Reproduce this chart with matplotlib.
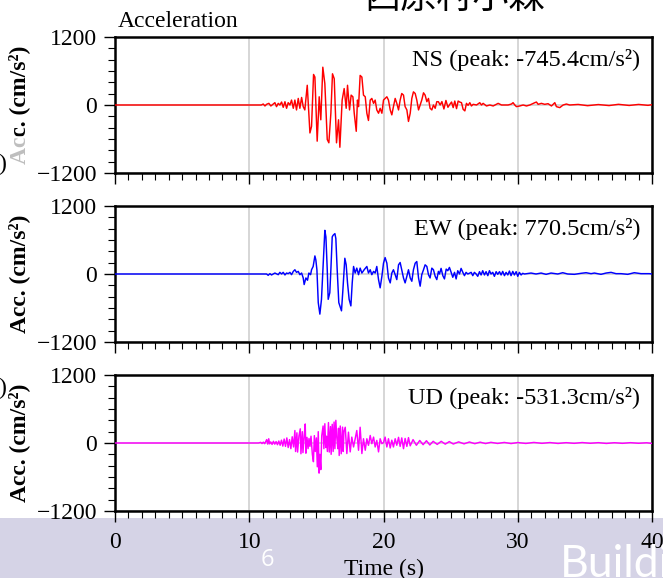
import numpy as np
import matplotlib.pyplot as plt
from matplotlib.patches import Rectangle
from matplotlib.ticker import MultipleLocator

# accelerogram vertices (time in s, acceleration in cm/s^2)
ns_t = [0, 10.90, 11.04, 11.17, 11.29, 11.46, 11.61, 11.79, 11.91, 12.03, 12.16,
        12.28, 12.41, 12.53, 12.66, 12.78, 12.90, 13.03, 13.15, 13.28, 13.40,
        13.52, 13.65, 13.77, 13.90, 14.02, 14.14, 14.32, 14.52, 14.64, 14.79,
        14.89, 15.06, 15.21, 15.33, 15.48, 15.63, 15.81, 15.93, 16.08, 16.20,
        16.33, 16.50, 16.65, 16.75, 16.92, 17.07, 17.22, 17.32, 17.47, 17.59,
        17.72, 17.82, 17.97, 18.06, 18.14, 18.26, 18.39, 18.51, 18.64, 18.76,
        18.88, 19.01, 19.13, 19.26, 19.38, 19.50, 19.63, 19.75, 19.88, 20.00,
        20.12, 20.25, 20.37, 20.50, 20.62, 20.74, 20.87, 20.99, 21.12, 21.24,
        21.36, 21.49, 21.61, 21.74, 21.86, 21.99, 22.11, 22.23, 22.36, 22.48,
        22.61, 22.73, 22.85, 22.98, 23.10, 23.23, 23.35, 23.47, 23.60, 23.72,
        23.85, 23.97, 24.09, 24.22, 24.35, 24.50, 24.65, 24.80, 24.94, 25.07,
        25.19, 25.31, 25.44, 25.56, 25.68, 25.81, 25.93, 26.06, 26.18, 26.30,
        26.43, 26.55, 26.68, 26.93, 27.17, 27.30, 27.42, 27.67, 27.92, 28.17,
        28.54, 28.79, 29.03, 29.28, 29.53, 29.65, 29.78, 29.90, 30.15, 30.40,
        30.65, 30.90, 31.27, 31.39, 31.52, 31.76, 32.01, 32.26, 32.51, 32.76,
        32.88, 33.13, 33.38, 33.62, 33.87, 34.50, 35.20, 36.00, 36.80, 37.50,
        38.30, 39.00, 39.70, 40.00]
ns_a = [0, 0, 17, -17, 12, 29, -17, 17, 41, -29, 29,
        0, 52, -41, 58, -58, 41, 0, 87, -58, 87,
        -87, 116, -58, 133, -29, -87, 348, -493, -377, 539,
        493, -638, 145, -261, 667, 377, -609, -667, -145, 551,
        464, -667, -261, -745.4, 87, 290, -58, 348, -87, 174,
        145, -145, -464, 87, -29, 522, 493, 174, 145, -145,
        -273, 87, 116, 29, 87, -87, -145, -58, -145, 87,
        116, 145, 87, -87, -174, -29, 116, 29, -87, 87,
        203, 174, -29, -87, -290, -145, 116, 232, 203, 87,
        -87, 0, 87, 215, 174, 58, 116, -58, -87, 0,
        -58, 58, 58, 0, 60, -70, 80, -40, 12, 52,
        -46, 70, -64, 70, 52, 41, -75, -104, 29, -6,
        41, -17, 12, 0, 41, 0, 29, -17, 0, -17,
        29, 0, 0, 0, 17, 41, 0, -29, -17, 0,
        -17, 0, 41, 52, 12, 29, 12, 23, -17, 41,
        -29, -46, 0, 17, 0, 10, -12, 8, -10, 12,
        -8, 10, -6, 5]

ew_t = [0, 11.29, 11.41, 11.54, 11.66, 11.91, 12.16, 12.28, 12.41, 12.53, 12.66,
        12.78, 12.90, 13.03, 13.15, 13.28, 13.40, 13.52, 13.65, 13.77, 13.90,
        14.02, 14.09, 14.22, 14.34, 14.44, 14.57, 14.64, 14.76, 14.89, 14.96,
        15.04, 15.14, 15.26, 15.38, 15.51, 15.63, 15.71, 15.81, 15.88, 16.00,
        16.08, 16.18, 16.25, 16.38, 16.45, 16.55, 16.67, 16.87, 16.97, 17.12,
        17.22, 17.32, 17.44, 17.57, 17.67, 17.77, 17.89, 18.01, 18.14, 18.26,
        18.39, 18.56, 18.76, 18.88, 19.01, 19.13, 19.26, 19.38, 19.50, 19.63,
        19.75, 19.88, 20.00, 20.12, 20.25, 20.37, 20.50, 20.62, 20.74, 20.87,
        20.99, 21.12, 21.24, 21.36, 21.49, 21.61, 21.74, 21.86, 21.99, 22.11,
        22.23, 22.36, 22.48, 22.61, 22.73, 22.85, 22.98, 23.10, 23.23, 23.35,
        23.47, 23.60, 23.72, 23.85, 23.97, 24.09, 24.17, 24.29, 24.42, 24.54,
        24.67, 24.79, 24.91, 25.04, 25.16, 25.29, 25.41, 25.53, 25.66, 25.78,
        25.91, 26.03, 26.15, 26.28, 26.53, 26.65, 26.77, 26.90, 27.02, 27.15,
        27.27, 27.39, 27.52, 27.64, 27.77, 27.89, 28.01, 28.14, 28.26, 28.39,
        28.51, 28.64, 28.76, 28.88, 29.01, 29.13, 29.26, 29.38, 29.50, 29.63,
        29.75, 29.88, 30.00, 30.12, 30.25, 30.37, 30.50, 30.99, 31.36, 31.74,
        32.11, 32.48, 32.98, 33.35, 33.72, 34.22, 34.71, 35.09, 35.46, 35.71,
        36.20, 36.58, 36.95, 37.32, 37.69, 38.19, 38.68, 39.18, 39.80, 40.00]
ew_a = [0, 0, -23, 6, -17, 17, -12, 29, 0, 29, -17,
        17, 6, 29, -12, 46, 75, 29, 46, -12, 17,
        -70, -186, -70, -110, 17, -12, 75, 133, 319, 249,
        75, -505, -708, -447, 191, 770.5, 655, 75, -447, -331,
        75, 655, 684, 713, 626, 75, -505, -650, -300, 278,
        162, -157, -447, -563, -157, 133, 17, 104, -12, 104,
        17, 75, 133, 17, 75, -12, 46, 17, 133, -99,
        -244, -41, 191, 290, 191, -70, -157, 17, 75, -12,
        -99, 162, 203, 75, -70, -157, -41, 75, -70, -128,
        75, 191, 220, -70, -215, -12, 75, 162, 133, -12,
        -70, 104, 75, -41, -99, 46, 0, 99, -29, -87,
        87, 58, 116, 29, -58, 29, -87, 58, 0, 99,
        29, -29, 29, 0, 29, -29, 29, 0, -41, 41,
        -17, 58, -17, 41, -29, 58, 0, 29, -41, 41,
        -6, 41, -17, 46, -29, 29, -17, 52, -29, 46,
        -17, 41, -41, 29, -17, 12, 0, 17, 0, 17,
        -6, 17, 0, 23, 0, -6, 12, 23, 6, 17,
        -6, 17, 29, 6, 6, -6, 23, 6, 6, 0]

ud_t = [0, 10.70, 10.85, 10.95, 11.05, 11.15, 11.30, 11.38, 11.45, 11.52, 11.60,
        11.70, 11.80, 11.90, 12.00, 12.10, 12.20, 12.30, 12.40, 12.50, 12.60,
        12.70, 12.80, 12.90, 13.00, 13.10, 13.20, 13.30, 13.40, 13.45, 13.55,
        13.60, 13.70, 13.80, 13.85, 13.95, 14.00, 14.10, 14.17, 14.22, 14.30,
        14.38, 14.45, 14.52, 14.60, 14.70, 14.78, 14.85, 14.92, 15.00, 15.07,
        15.14, 15.20, 15.26, 15.33, 15.40, 15.50, 15.56, 15.63, 15.70, 15.75,
        15.82, 15.90, 15.96, 16.05, 16.10, 16.18, 16.25, 16.32, 16.38, 16.45,
        16.52, 16.60, 16.65, 16.70, 16.78, 16.85, 16.95, 17.00, 17.05, 17.15,
        17.27, 17.39, 17.52, 17.64, 17.77, 17.89, 18.01, 18.14, 18.26, 18.39,
        18.51, 18.64, 18.76, 18.88, 19.01, 19.13, 19.26, 19.38, 19.50, 19.63,
        19.75, 19.88, 20.00, 20.12, 20.25, 20.37, 20.50, 20.62, 20.74, 20.87,
        20.99, 21.12, 21.24, 21.36, 21.49, 21.61, 21.74, 21.86, 21.99, 22.20,
        22.45, 22.70, 22.95, 23.20, 23.45, 23.70, 24.00, 24.30, 24.60, 24.90,
        25.20, 25.60, 26.00, 26.40, 26.80, 27.20, 27.60, 28.00, 28.50, 29.00,
        29.50, 30.00, 30.60, 31.20, 31.80, 32.40, 33.00, 33.60, 34.20, 34.80,
        35.40, 36.00, 36.60, 37.20, 37.80, 38.40, 39.00, 39.60, 40.00]
ud_a = [0, 0, 12, -10, 15, -12, 60, -20, 75, -15, 20,
        -25, 30, -20, 25, -30, 35, -40, 50, -55, 70,
        -60, 90, -80, 60, -100, 110, -70, 220, -150, 180,
        -160, 120, 250, -190, 200, -170, 150, 336, -180, 100,
        -100, 80, -60, 120, -200, -330, 130, -150, 90, -420,
        200, -531.3, -200, -470, 130, 300, -100, 340, -80, 120,
        -150, 360, -160, 290, -200, 330, -150, 370, -100, 400,
        100, -100, 260, -220, 300, -190, 280, -150, 200, 278,
        -186, 191, -157, 104, -70, 75, 220, -128, 278, -186,
        75, -128, 75, -41, 133, -12, 104, -70, 46, -157,
        75, -12, 6, 104, -70, 75, -87, 50, -70, 75,
        -40, 100, -60, 90, -100, 80, -60, 95, -50, 60,
        -40, 45, -30, 40, -35, 30, -25, 30, -20, 25,
        -18, 20, -15, 18, -12, 15, -10, 12, -8, 10,
        -10, 8, -8, 10, -6, 8, -8, 6, -6, 8,
        -5, 6, -8, 5, -6, 6, -5, 4, -8]

names = ['NS', 'EW', 'UD']
colors = ['#ff0000', '#0000ff', '#ff00ff']
series = [(ns_t, ns_a), (ew_t, ew_a), (ud_t, ud_a)]

serif = 'Liberation Serif'
W, H = 663, 578
fig = plt.figure(figsize=(W / 100, H / 100), dpi=100)

# slide footer band
fig.patches.append(Rectangle((0, 0), 1, 60 / H, transform=fig.transFigure,
                             facecolor='#d5d3e6', edgecolor='none', zorder=-10))

tops = [37, 206, 375]
left, right = 115, 652
for i, top in enumerate(tops):
    ax = fig.add_axes([left / W, 1 - (top + 136) / H, (right - left) / W, 136 / H])
    t, a = np.array(series[i][0]), np.array(series[i][1])
    ax.plot(t, a, color=colors[i], lw=1.05, zorder=3)
    ax.set_xlim(0, 40)
    ax.set_ylim(-1200, 1200)
    ax.set_xticks([0, 10, 20, 30, 40])
    ax.set_yticks([-1200, 0, 1200])
    ax.xaxis.set_minor_locator(MultipleLocator(1))
    ax.yaxis.set_minor_locator(MultipleLocator(200))
    ax.tick_params(which='major', length=8, width=1, labelsize=17, pad=5)
    ax.tick_params(which='minor', length=5, width=0.8)
    ax.tick_params(axis='x', which='major', pad=7)
    for lab in ax.get_xticklabels() + ax.get_yticklabels():
        lab.set_family(serif)
    ax.grid(which='major', color='#d0d0d0', lw=1.2)
    ax.set_axisbelow(True)
    for sp in ax.spines.values():
        sp.set_linewidth(1.8)
    if i < 2:
        ax.tick_params(labelbottom=False)
    else:
        ax.set_xlabel('Time (s)', fontsize=17, family=serif, labelpad=4)
    ax.set_ylabel('Acc. (cm/s²)', fontsize=17, family=serif, fontweight='bold')
    ax.yaxis.set_label_coords(-0.158, 0.5)
    peak = a[np.argmax(np.abs(a))]
    ax.text(0.978, 0.83, f'{names[i]} (peak: {peak:.1f}cm/s²)', transform=ax.transAxes,
            ha='right', va='center', fontsize=17.5, family=serif)
    if i == 0:
        ax.text(0.006, 1.035, 'Acceleration', transform=ax.transAxes, ha='left',
                va='bottom', fontsize=17, family=serif)

# faded corner of the first label
fig.patches.append(Rectangle((8 / W, 1 - 170 / H), 26 / W, 34 / H, transform=fig.transFigure,
                             facecolor='white', alpha=0.75, edgecolor='none', zorder=5))
fig.text(6 / W, 1 - 164 / H, ')', ha='right', va='center', fontsize=17, family=serif)
fig.text(6 / W, 1 - 388 / H, ')', ha='right', va='center', fontsize=17, family=serif)

fig.text(0.686, 1 - 8 / H, '西原村小森', ha='center', va='baseline', fontsize=26,
         family=['Noto Sans CJK JP', 'DejaVu Sans'], color='black')
fig.text(267 / W, 1 - 560 / H, '6', ha='center', va='center', fontsize=17,
         family='Open Sans', color='white')
fig.text(560 / W, 1 / H, 'Buildi', ha='left', va='baseline', fontsize=32,
         family='Lato', color='white')

fig.savefig('out.png', dpi=100)
